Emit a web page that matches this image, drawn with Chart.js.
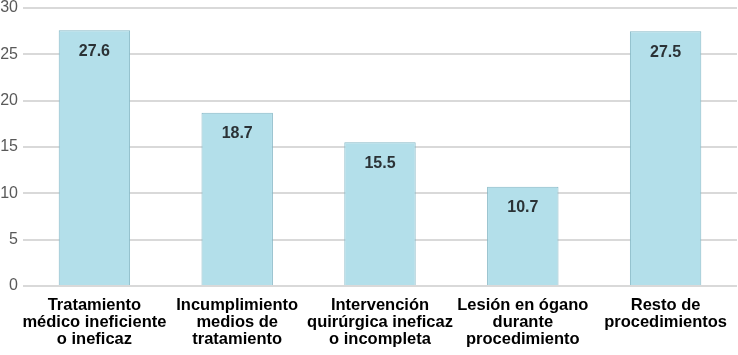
<!DOCTYPE html>
<html>
<head>
<meta charset="utf-8">
<script src="https://cdn.jsdelivr.net/npm/chart.js@4/dist/chart.umd.min.js"></script>
<style>
  html, body { margin: 0; padding: 0; background: #fff; }
  #wrap { width: 738px; height: 355px; }
</style>
</head>
<body>
<div id="wrap"><canvas id="causas_chart" width="738" height="355"></canvas></div>
<script>
// categories (x axis), split in lines as on the picture
var categorias = [
  ["Tratamiento", "médico ineficiente", "o ineficaz"],
  ["Incumplimiento", "medios de", "tratamiento"],
  ["Intervención", "quirúrgica ineficaz", "o incompleta"],
  ["Lesión en ógano", "durante", "procedimiento"],
  ["Resto de", "procedimientos"]
];
var valores = [27.6, 18.7, 15.5, 10.7, 27.5];
var yTicks = [0, 5, 10, 15, 20, 25, 30];

// value labels inside the top of each bar
var etiquetas = {
  id: 'etiquetas',
  afterDatasetsDraw: function(chart) {
    var ctx = chart.ctx;
    var meta = chart.getDatasetMeta(0);
    ctx.save();
    ctx.font = 'bold 16px "Liberation Sans", Arial, sans-serif';
    ctx.fillStyle = '#2b3236';
    ctx.textAlign = 'center';
    ctx.textBaseline = 'top';
    meta.data.forEach(function(bar, i) {
      ctx.fillText(valores[i].toFixed(1), bar.x, bar.y + 13);
    });
    ctx.restore();
  }
};

var canvas = document.getElementById("causas_chart");

new Chart(canvas, {
  type: 'bar',
  data: {
    labels: categorias,
    datasets: [{
      data: valores,
      backgroundColor: '#b3dfea',
      borderColor: '#86b8c6',
      borderWidth: 1,
      barPercentage: 0.5,
      categoryPercentage: 1.0
    }]
  },
  options: {
    responsive: false,
    animation: false,
    layout: { padding: { top: 8, right: 1, left: 0, bottom: 0 } },
    plugins: {
      legend: { display: false },
      tooltip: { enabled: false }
    },
    scales: {
      x: {
        grid: { display: false },
        border: { display: false },
        ticks: {
          color: '#000',
          font: { family: '"Liberation Sans", Arial, sans-serif', size: 16.5, weight: 'bold', lineHeight: 1.03 },
          maxRotation: 0,
          autoSkip: false,
          padding: 3
        },
        afterFit: function(scale) { scale.height = 69; }
      },
      y: {
        min: 0,
        max: 30,
        afterBuildTicks: function(scale) {
          scale.ticks = yTicks.map(function(v) { return { value: v }; });
        },
        grid: { color: '#d9d9d9', lineWidth: 2, drawTicks: false },
        border: { display: false },
        ticks: {
          color: '#595959',
          font: { family: '"Liberation Sans", Arial, sans-serif', size: 16 },
          padding: 5
        },
        afterFit: function(scale) {
          scale.width = 23;
          scale.paddingTop = 0;
          scale.paddingBottom = 0;
        }
      }
    }
  },
  plugins: [etiquetas]
});
</script>
</body>
</html>
